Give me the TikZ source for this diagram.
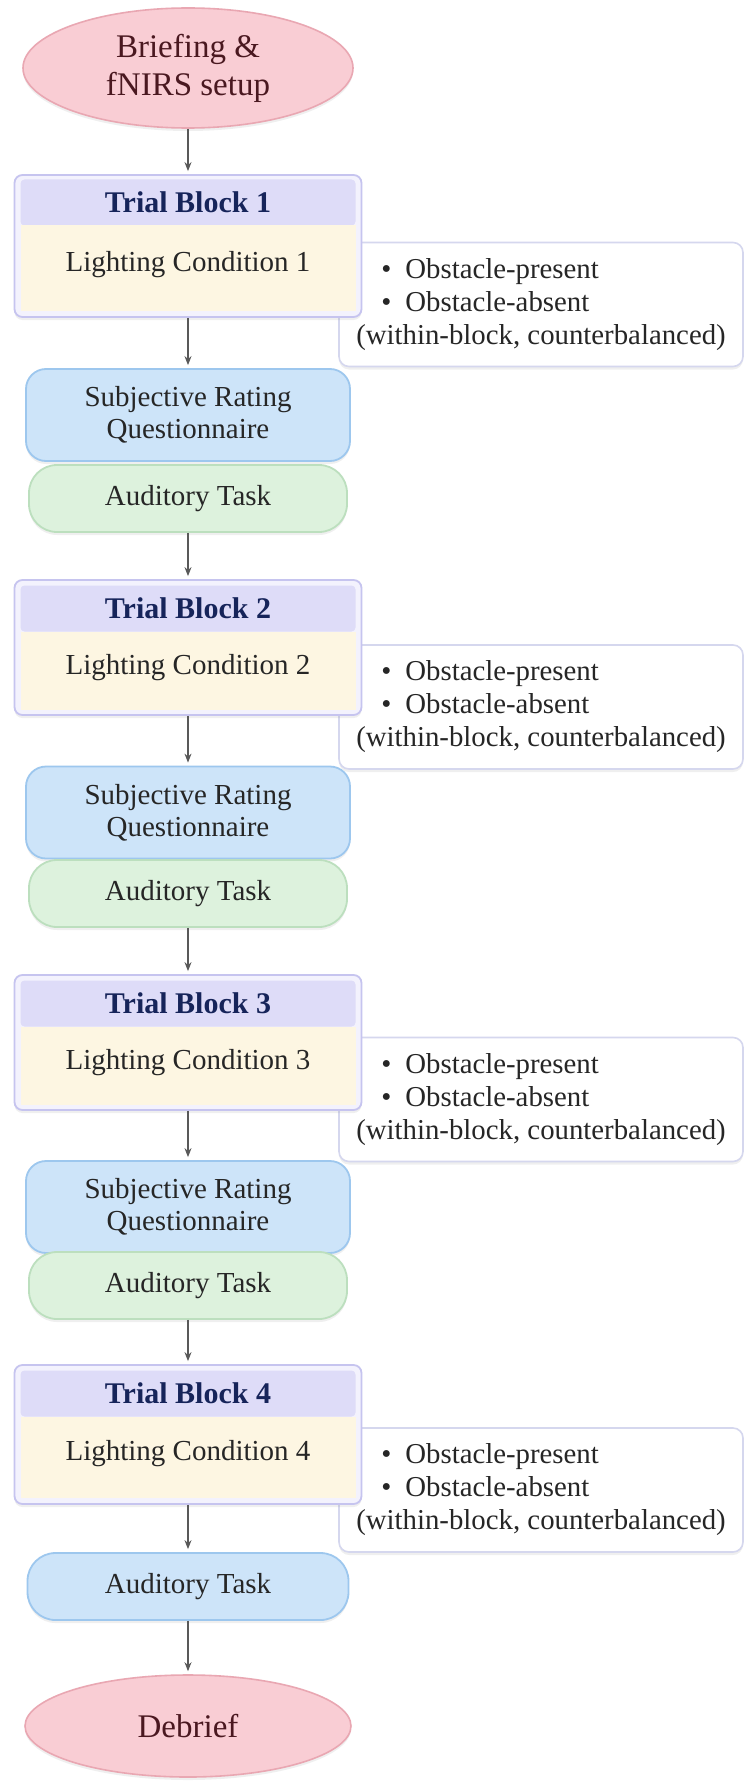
\documentclass[tikz,border=0pt]{standalone}
\usepackage{fontspec}
\setmainfont{Liberation Serif}
\usetikzlibrary{shapes.geometric,arrows.meta,shadows}

\definecolor{pinkfill}{HTML}{F9CDD4}
\definecolor{pinkline}{HTML}{E9A7B2}
\definecolor{pinktext}{HTML}{4A1820}
\definecolor{lavline}{HTML}{C6C4EF}
\definecolor{lavfill}{HTML}{DEDCF8}
\definecolor{lavback}{HTML}{F3F2FD}
\definecolor{creamfill}{HTML}{FDF6E2}
\definecolor{navytext}{HTML}{16245A}
\definecolor{bluefill}{HTML}{CDE4F9}
\definecolor{blueline}{HTML}{9DC7EE}
\definecolor{greenfill}{HTML}{DDF2DD}
\definecolor{greenline}{HTML}{BCDFBE}
\definecolor{noteline}{HTML}{D5D7EE}
\definecolor{arrowgray}{HTML}{595959}

\tikzset{
  softshadow/.style={drop shadow={opacity=0.12, shadow xshift=0pt, shadow yshift=-1.5pt}},
  terminal/.style={ellipse, draw=pinkline, fill=pinkfill, line width=0.8pt, text=pinktext,
    font=\fontsize{16.5}{19}\selectfont, align=center, inner sep=0pt, softshadow},
  blockframe/.style={draw=lavline, fill=lavback, rounded corners=4pt, line width=0.9pt,
    minimum width=173.5pt, softshadow},
  blockhead/.style={fill=lavfill, rounded corners=2pt, minimum width=167.5pt, minimum height=23pt,
    text=navytext, font=\fontsize{15}{18}\selectfont\bfseries},
  blockbody/.style={fill=creamfill, minimum width=167.5pt, text=black!85,
    font=\fontsize{14.5}{17}\selectfont, text depth=7pt},
  notebox/.style={draw=noteline, fill=white, rounded corners=5pt, line width=0.8pt,
    minimum width=202pt, minimum height=62pt, align=left, text=black!85,
    font=\fontsize{14.4}{16.5}\selectfont, softshadow},
  ratingbox/.style={draw=blueline, fill=bluefill, rounded corners=10pt, line width=0.9pt,
    minimum width=162pt, minimum height=46pt, align=center, text=black!85,
    font=\fontsize{14.5}{16}\selectfont, softshadow},
  taskbox/.style={draw=greenline, fill=greenfill, rounded corners=14pt, line width=0.9pt,
    minimum width=159pt, minimum height=33.5pt, text=black!85,
    font=\fontsize{14.5}{17}\selectfont, softshadow},
  flow/.style={->, >={Stealth[length=4.5pt,width=3.5pt]}, draw=arrowgray, line width=0.6pt,
    shorten >=1.5pt},
}

\newcommand{\obstaclelist}{\hspace*{12.5pt}\textbullet\hspace{7pt}Obstacle-present\\
  \hspace*{12.5pt}\textbullet\hspace{7pt}Obstacle-absent\\
  (within-block, counterbalanced)}

\begin{document}
\begin{tikzpicture}[x=0.5pt, y=-0.5pt]
    \fill[white] (0,0) rectangle (748,1787);
    \useasboundingbox (0,0) rectangle (748,1787);

    \node[terminal, minimum width=165pt, minimum height=60pt] (brief) at (188,68) {Briefing \&\\fNIRS setup};

    % block 1
    \node[notebox] (note1) at (541,304.5) {\obstaclelist};
    \node[blockframe, minimum height=71pt] (tb1) at (188,246) {};
    \node[blockhead] (th1) at (188,202.5) {Trial Block 1};
    \node[blockbody, minimum height=43pt] (lc1) at (188,268) {Lighting Condition 1};
    \node[ratingbox] (sr1) at (188,415) {Subjective Rating\\Questionnaire};
    \node[taskbox] (at1) at (188,498.5) {Auditory Task};

    % block 2
    \node[notebox] (note2) at (541,707) {\obstaclelist};
    \node[blockframe, minimum height=67.5pt] (tb2) at (188,647.5) {};
    \node[blockhead] (th2) at (188,608.5) {Trial Block 2};
    \node[blockbody, minimum height=39pt] (lc2) at (188,671) {Lighting Condition 2};
    \node[ratingbox] (sr2) at (188,812.5) {Subjective Rating\\Questionnaire};
    \node[taskbox] (at2) at (188,893.5) {Auditory Task};

    % block 3
    \node[notebox] (note3) at (541,1099.5) {\obstaclelist};
    \node[blockframe, minimum height=67.5pt] (tb3) at (188,1042.5) {};
    \node[blockhead] (th3) at (188,1003.5) {Trial Block 3};
    \node[blockbody, minimum height=39pt] (lc3) at (188,1066) {Lighting Condition 3};
    \node[ratingbox] (sr3) at (188,1207) {Subjective Rating\\Questionnaire};
    \node[taskbox] (at3) at (188,1285.5) {Auditory Task};

    % block 4
    \node[notebox] (note4) at (541,1490) {\obstaclelist};
    \node[blockframe, minimum height=69.5pt] (tb4) at (188,1434.5) {};
    \node[blockhead] (th4) at (188,1393.5) {Trial Block 4};
    \node[blockbody, minimum height=40.5pt] (lc4) at (188,1457.5) {Lighting Condition 4};
    \node[taskbox, draw=blueline, fill=bluefill, minimum width=160.5pt] (at4) at (188,1586.5) {Auditory Task};

    \node[terminal, minimum width=163pt, minimum height=51pt] (debrief) at (188,1726) {Debrief};

    % connectors
    \draw[flow] (brief) -- (tb1);
    \draw[flow] (tb1) -- (sr1);
    \draw[flow] (at1) -- (tb2);
    \draw[flow] (tb2) -- (sr2);
    \draw[flow] (at2) -- (tb3);
    \draw[flow] (tb3) -- (sr3);
    \draw[flow] (at3) -- (tb4);
    \draw[flow] (tb4) -- (at4);
    \draw[flow] (at4) -- (debrief);
\end{tikzpicture}
\end{document}
